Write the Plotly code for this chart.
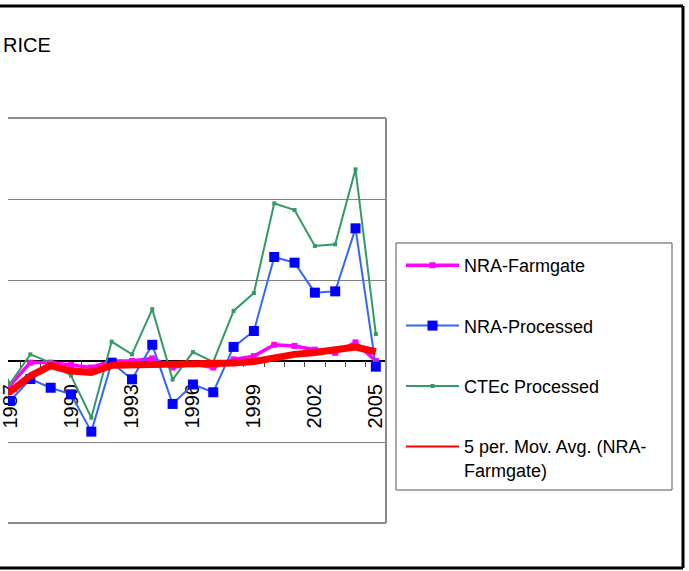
import plotly.graph_objects as go

# ---- data ----
years = list(range(1986, 2006))
nra_farmgate = [None, -0.15, -0.01, -0.01, -0.025, -0.04, 0.0, 0.0, 0.016, -0.04,
                -0.02, -0.04, 0.01, 0.03, 0.10, 0.093, 0.07, 0.05, 0.115, 0.0]
nra_processed = [None, -0.247, -0.111, -0.165, -0.206, -0.436, -0.01, -0.113, 0.10, -0.265,
                 -0.145, -0.193, 0.087, 0.185, 0.642, 0.607, 0.422, 0.43, 0.819, -0.035]
ctec_processed = [0.10, -0.14, 0.041, -0.01, -0.09, -0.35, 0.12, 0.041, 0.32, -0.115,
                  0.055, -0.005, 0.309, 0.42, 0.973, 0.932, 0.71, 0.72, 1.183, 0.166]
mov_avg = [-0.22, -0.19, -0.093, -0.028, -0.062, -0.07, -0.027, -0.024, -0.02, -0.02,
           -0.02, -0.02, -0.012, -0.003, 0.022, 0.041, 0.052, 0.064, 0.086, 0.057]
tick_years = [1987, 1990, 1993, 1996, 1999, 2002, 2005]
tick_labels = [str(y) for y in tick_years]

FONT = "Liberation Sans, Arial, sans-serif"

# pixel geometry helpers (page pixels -> paper coordinates)
W, H = 689, 571
L, R, T, B = 8, 386, 118, 523
PW, PH = R - L, B - T


def px(x):
    return (x - L) / PW


def py(y):
    return 1 - (y - T) / PH


fig = go.Figure()
fig.add_trace(go.Scatter(x=years, y=nra_farmgate, name="NRA-Farmgate", mode="lines+markers",
                         line=dict(color="#FF00FF", width=3.5),
                         marker=dict(color="#FF00FF", symbol="square", size=6),
                         legendgroup="a"))
fig.add_trace(go.Scatter(x=years, y=nra_processed, name="NRA-Processed", mode="lines+markers",
                         line=dict(color="#3366FF", width=2),
                         marker=dict(color="#0000FF", symbol="square", size=10),
                         legendgroup="b"))
fig.add_trace(go.Scatter(x=years, y=ctec_processed, name="CTEc Processed", mode="lines+markers",
                         line=dict(color="#339966", width=2),
                         marker=dict(color="#339966", symbol="square", size=4),
                         legendgroup="c"))
fig.add_trace(go.Scatter(x=years, y=mov_avg, name="5 per. Mov. Avg. (NRA-<br>Farmgate)",
                         mode="lines", line=dict(color="#FF0000", width=7),
                         legendgroup="d", showlegend=False))
# legend entry for the trendline (thin line as in the reference legend)
fig.add_trace(go.Scatter(x=[None], y=[None], name="5 per. Mov. Avg. (NRA-<br>Farmgate)",
                         mode="lines", line=dict(color="#FF0000", width=2),
                         legendgroup="d", showlegend=True, hoverinfo="skip"))

shapes = [
    # plot area border (left side is cropped in the reference)
    dict(type="line", xref="paper", yref="paper", x0=0, x1=1, y0=1, y1=1,
         line=dict(color="#8c8c8c", width=2)),
    dict(type="line", xref="paper", yref="paper", x0=1, x1=1, y0=0, y1=1,
         line=dict(color="#8c8c8c", width=2)),
    dict(type="line", xref="paper", yref="paper", x0=0, x1=1, y0=0, y1=0,
         line=dict(color="#8c8c8c", width=2)),
    # outer chart frame
    dict(type="line", xref="paper", yref="paper", x0=px(-10), x1=px(683), y0=py(6), y1=py(6),
         line=dict(color="black", width=3)),
    dict(type="line", xref="paper", yref="paper", x0=px(683), x1=px(683), y0=py(6), y1=py(568),
         line=dict(color="black", width=3)),
    dict(type="line", xref="paper", yref="paper", x0=px(-10), x1=px(683), y0=py(568), y1=py(568),
         line=dict(color="black", width=3)),
    # legend box
    dict(type="rect", xref="paper", yref="paper", x0=px(396), x1=px(672), y0=py(490), y1=py(243),
         line=dict(color="#555555", width=1)),
]

fig.update_layout(
    width=W, height=H,
    margin=dict(l=L, r=W - R, t=T, b=H - B, pad=0, autoexpand=False),
    paper_bgcolor="white", plot_bgcolor="white",
    font=dict(family=FONT, color="black", size=18),
    showlegend=True,
    legend=dict(x=px(401), y=py(247), xanchor="left", yanchor="top",
                bgcolor="rgba(0,0,0,0)", borderwidth=0, tracegroupgap=34,
                valign="top", itemwidth=53,
                font=dict(family=FONT, size=18, color="black"),
                traceorder="grouped"),
    shapes=shapes,
    annotations=[dict(text="RICE", xref="paper", yref="paper", x=px(1), y=py(45),
                      xanchor="left", yanchor="middle", showarrow=False,
                      font=dict(family=FONT, size=20, color="black"))],
    xaxis=dict(range=[1986.9, 2005.5], tickvals=tick_years, ticktext=tick_labels,
               tickangle=-90, ticks="", showgrid=False, zeroline=False,
               showline=True, linecolor="black", linewidth=1,
               anchor="free", position=py(360), ticklabelstandoff=15,
               ticklabeloverflow="allow", automargin=False, layer="below traces",
               tickfont=dict(family=FONT, size=20, color="black"),
               minor=dict(ticks="outside", ticklen=6, tickcolor="#444444",
                          tick0=0.5, dtick=1, showgrid=False)),
    yaxis=dict(range=[-1, 1.5], dtick=0.5, showticklabels=False, ticks="",
               showgrid=True, gridcolor="#808080", gridwidth=1, automargin=False,
               zeroline=True, zerolinecolor="black", zerolinewidth=1),
)

fig.write_html("out.html", config={"displayModeBar": False},
               post_script="document.body.style.margin='0px';")
